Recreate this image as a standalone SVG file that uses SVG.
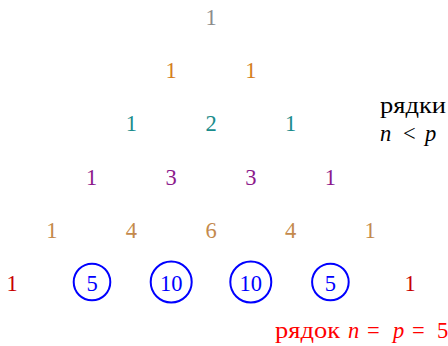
<svg xmlns="http://www.w3.org/2000/svg" width="448" height="346" viewBox="0 0 448 346">
<style>
text{font-family:"Liberation Serif",serif;font-size:22.5px;text-anchor:middle}
.r0{fill:#8c8c8c}.r1{fill:#d47f1e}.r2{fill:#1a8c8c}.r3{fill:#8c1a8c}.r4{fill:#c48a4c}.r5{fill:#c80000}
.b{fill:#0000ff}
.c{fill:none;stroke:#0000ff;stroke-width:2}
.lbl{text-anchor:start;fill:#000}
.red{text-anchor:start;fill:#ff0000}
.it{font-style:italic}
</style>
<rect width="448" height="346" fill="#fff"/>
<g id="row0"><text class="r0" x="211" y="25">1</text></g>
<g id="row1"><text class="r1" x="171.2" y="78.2">1</text><text class="r1" x="250.8" y="78.2">1</text></g>
<g id="row2"><text class="r2" x="131.4" y="131.4">1</text><text class="r2" x="211" y="131.4">2</text><text class="r2" x="290.6" y="131.4">1</text></g>
<g id="row3"><text class="r3" x="91.6" y="184.6">1</text><text class="r3" x="171.2" y="184.6">3</text><text class="r3" x="250.8" y="184.6">3</text><text class="r3" x="330.4" y="184.6">1</text></g>
<g id="row4"><text class="r4" x="51.8" y="237.8">1</text><text class="r4" x="131.4" y="237.8">4</text><text class="r4" x="211" y="237.8">6</text><text class="r4" x="290.6" y="237.8">4</text><text class="r4" x="370.2" y="237.8">1</text></g>
<g id="row5">
<text class="r5" x="12" y="291">1</text>
<g id="c5a"><circle class="c" cx="92" cy="282" r="18.3"/><text class="b" x="92" y="291">5</text></g>
<g id="c10a"><circle class="c" cx="171.2" cy="282" r="20.5"/><text class="b" x="171.2" y="291">10</text></g>
<g id="c10b"><circle class="c" cx="250.8" cy="282" r="20.5"/><text class="b" x="250.8" y="291">10</text></g>
<g id="c5b"><circle class="c" cx="330.4" cy="282" r="18.3"/><text class="b" x="330.4" y="291">5</text></g>
<text class="r5" x="410" y="291">1</text>
</g>
<g id="label-rows">
<text class="lbl" x="380" y="113" textLength="66" lengthAdjust="spacingAndGlyphs">рядки</text>
<text class="lbl" y="141"><tspan class="it" x="380">n</tspan><tspan x="403">&lt;</tspan><tspan class="it" x="425">p</tspan></text>
</g>
<g id="label-row5"><text class="red" y="338"><tspan x="275" textLength="65" lengthAdjust="spacingAndGlyphs">рядок</tspan><tspan class="it" x="348">n</tspan><tspan x="367">=</tspan><tspan class="it" x="393">p</tspan><tspan x="412">=</tspan><tspan x="437">5</tspan></text></g>
</svg>
